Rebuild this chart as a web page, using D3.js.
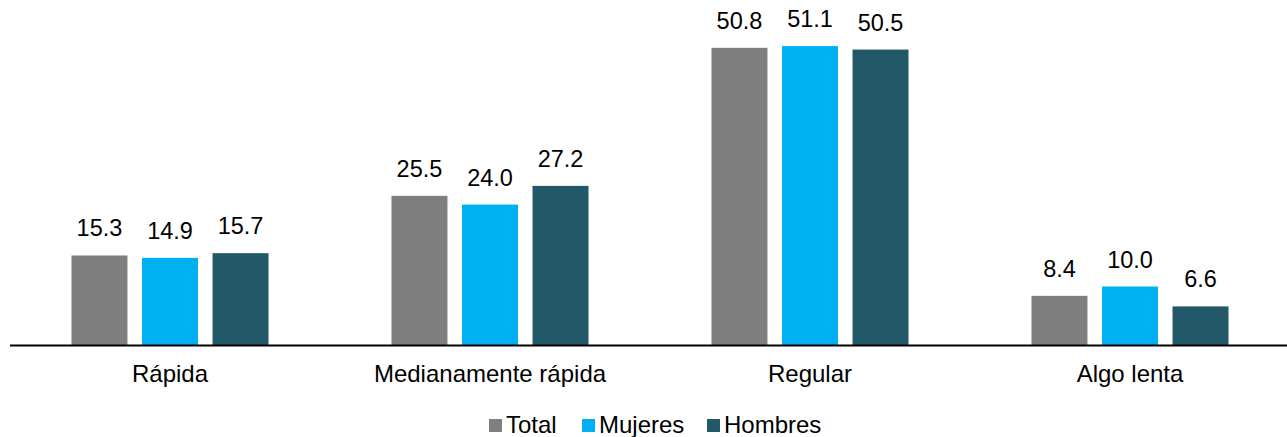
<!DOCTYPE html>
<html>
<head>
<meta charset="utf-8">
<script src="https://cdn.jsdelivr.net/npm/d3@7"></script>
<style>
  html, body { margin: 0; padding: 0; background: #fff; }
  svg { display: block; }
  text { font-family: "Liberation Sans", Arial, sans-serif; fill: #000; }
</style>
</head>
<body>
<svg id="chart" width="1287" height="437"></svg>
<script>
const categories = ["Rápida", "Medianamente rápida", "Regular", "Algo lenta"];
const seriesNames = ["Total", "Mujeres", "Hombres"];
const totalValues = [15.3, 25.5, 50.8, 8.4];
const mujeresValues = [14.9, 24.0, 51.1, 10.0];
const hombresValues = [15.7, 27.2, 50.5, 6.6];
const colors = ["#7F7F7F", "#00B0F0", "#215968"];

const seriesValues = [totalValues, mujeresValues, hombresValues];
const data = categories.map((c, i) => ({
  category: c,
  values: seriesNames.map((s, j) => ({ series: s, value: seriesValues[j][i], color: colors[j] }))
}));

const svg = d3.select("#chart");
const baseY = 345;
const x0 = d3.scaleBand().domain(categories).range([10, 1290]).padding(0);
const x1 = d3.scaleBand().domain(seriesNames).range([0, x0.bandwidth()])
  .paddingInner(0.206).paddingOuter(0.872);
const y = d3.scaleLinear().domain([0, 51.1]).range([baseY, baseY - 51.1 * 5.85]);

const groups = svg.selectAll("g.grp").data(data).enter().append("g")
  .attr("class", "grp")
  .attr("transform", d => `translate(${x0(d.category)},0)`);

groups.selectAll("rect").data(d => d.values).enter().append("rect")
  .attr("x", d => x1(d.series))
  .attr("width", x1.bandwidth())
  .attr("y", d => y(d.value))
  .attr("height", d => y(0) - y(d.value))
  .attr("fill", d => d.color);

groups.selectAll("text.val").data(d => d.values).enter().append("text")
  .attr("class", "val")
  .attr("x", d => x1(d.series) + x1.bandwidth() / 2)
  .attr("y", d => y(d.value) - 19)
  .attr("text-anchor", "middle")
  .style("font-size", "23.5px")
  .text(d => d.value.toFixed(1));

// baseline axis
const xAxis = d3.axisBottom(x0).tickSize(0).tickPadding(0);
const axisG = svg.append("g").attr("transform", `translate(0,${baseY})`).call(xAxis);
axisG.select(".domain").remove();
axisG.selectAll(".tick text")
  .attr("dy", null)
  .attr("y", 37)
  .style("font-size", "24px")
  .style("font-family", "'Liberation Sans', Arial, sans-serif")
  .attr("fill", "#000");

svg.append("line")
  .attr("x1", 10).attr("x2", 1287)
  .attr("y1", baseY + 0.5).attr("y2", baseY + 0.5)
  .attr("stroke", "#000").attr("stroke-width", 2);

// legend
const legendX = [489, 582, 707];
const legend = svg.append("g");
seriesNames.forEach((s, i) => {
  legend.append("rect")
    .attr("x", legendX[i]).attr("y", 419)
    .attr("width", 13).attr("height", 13)
    .attr("fill", colors[i]);
  legend.append("text")
    .attr("x", legendX[i] + 17).attr("y", 433)
    .style("font-size", "24px")
    .text(s);
});
</script>
</body>
</html>
